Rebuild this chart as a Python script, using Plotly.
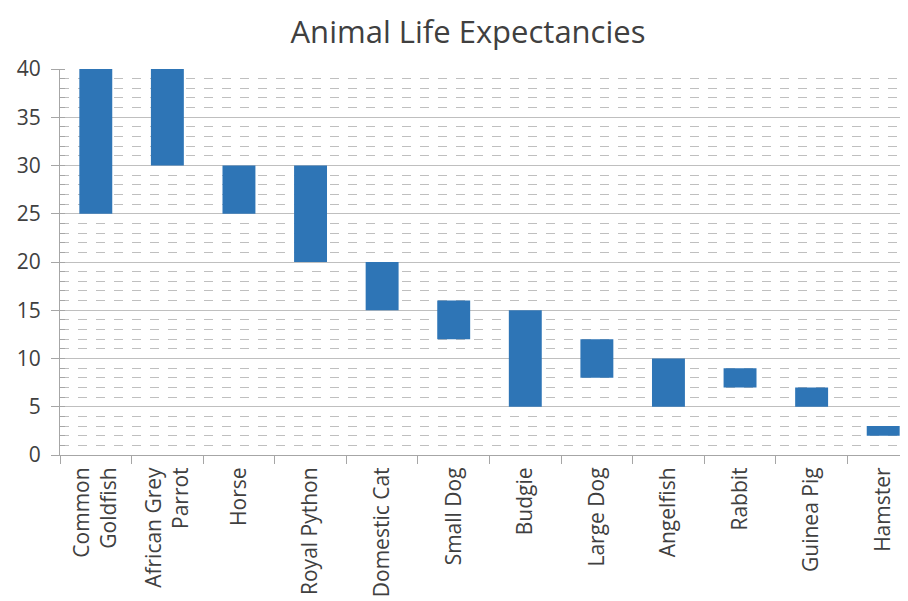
import plotly.graph_objects as go

categories = ["Common<br>Goldfish", "African Grey<br>Parrot", "Horse", "Royal Python", "Domestic Cat",
              "Small Dog", "Budgie", "Large Dog", "Angelfish", "Rabbit", "Guinea Pig", "Hamster"]
min_years = [25, 30, 25, 20, 15, 12, 5, 8, 5, 7, 5, 2]
max_years = [40, 40, 30, 30, 20, 16, 15, 12, 10, 9, 7, 3]

spans = [hi - lo for lo, hi in zip(min_years, max_years)]

fig = go.Figure(go.Bar(
    x=categories, y=spans, base=min_years,
    marker=dict(color="#2E75B6", line=dict(width=0)),
    width=0.46, hoverinfo="x+y",
))

font_family = "'Open Sans', Lato, sans-serif"
# page body has an 8px default margin; figure coordinates are offset accordingly
fig.update_layout(
    width=920, height=601,
    paper_bgcolor="white", plot_bgcolor="white",
    margin=dict(l=52, r=9, t=61, b=154, autoexpand=False),
    title=dict(text="Animal Life Expectancies", x=460 / 920, xanchor="center", xref="container",
               y=1 - 24 / 601, yanchor="middle",
               font=dict(family=font_family, size=31, color="#404040")),
    font=dict(family=font_family, size=21, color="#404040"),
    showlegend=False,
)
fig.update_yaxes(
    range=[0, 40], dtick=5, tick0=0, automargin=False,
    showgrid=True, gridcolor="#bfbfbf", gridwidth=1,
    showline=True, linecolor="#a6a6a6", linewidth=1,
    ticks="outside", ticklen=8, tickcolor="#a6a6a6",
    zeroline=False, ticklabelstandoff=6,
    tickfont=dict(size=21, color="#404040"),
    minor=dict(dtick=1, showgrid=True, gridcolor="#bfbfbf", griddash="dash", gridwidth=1,
               ticks="inside", ticklen=5, tickcolor="#a6a6a6"),
)
fig.update_xaxes(
    showline=True, linecolor="#a6a6a6", linewidth=1, automargin=False,
    ticks="outside", ticklen=8, tickcolor="#a6a6a6", tickson="boundaries",
    tickangle=-90, showgrid=False, ticklabelstandoff=3,
    tickfont=dict(size=21, color="#404040"),
)

fig.write_html("out.html")
